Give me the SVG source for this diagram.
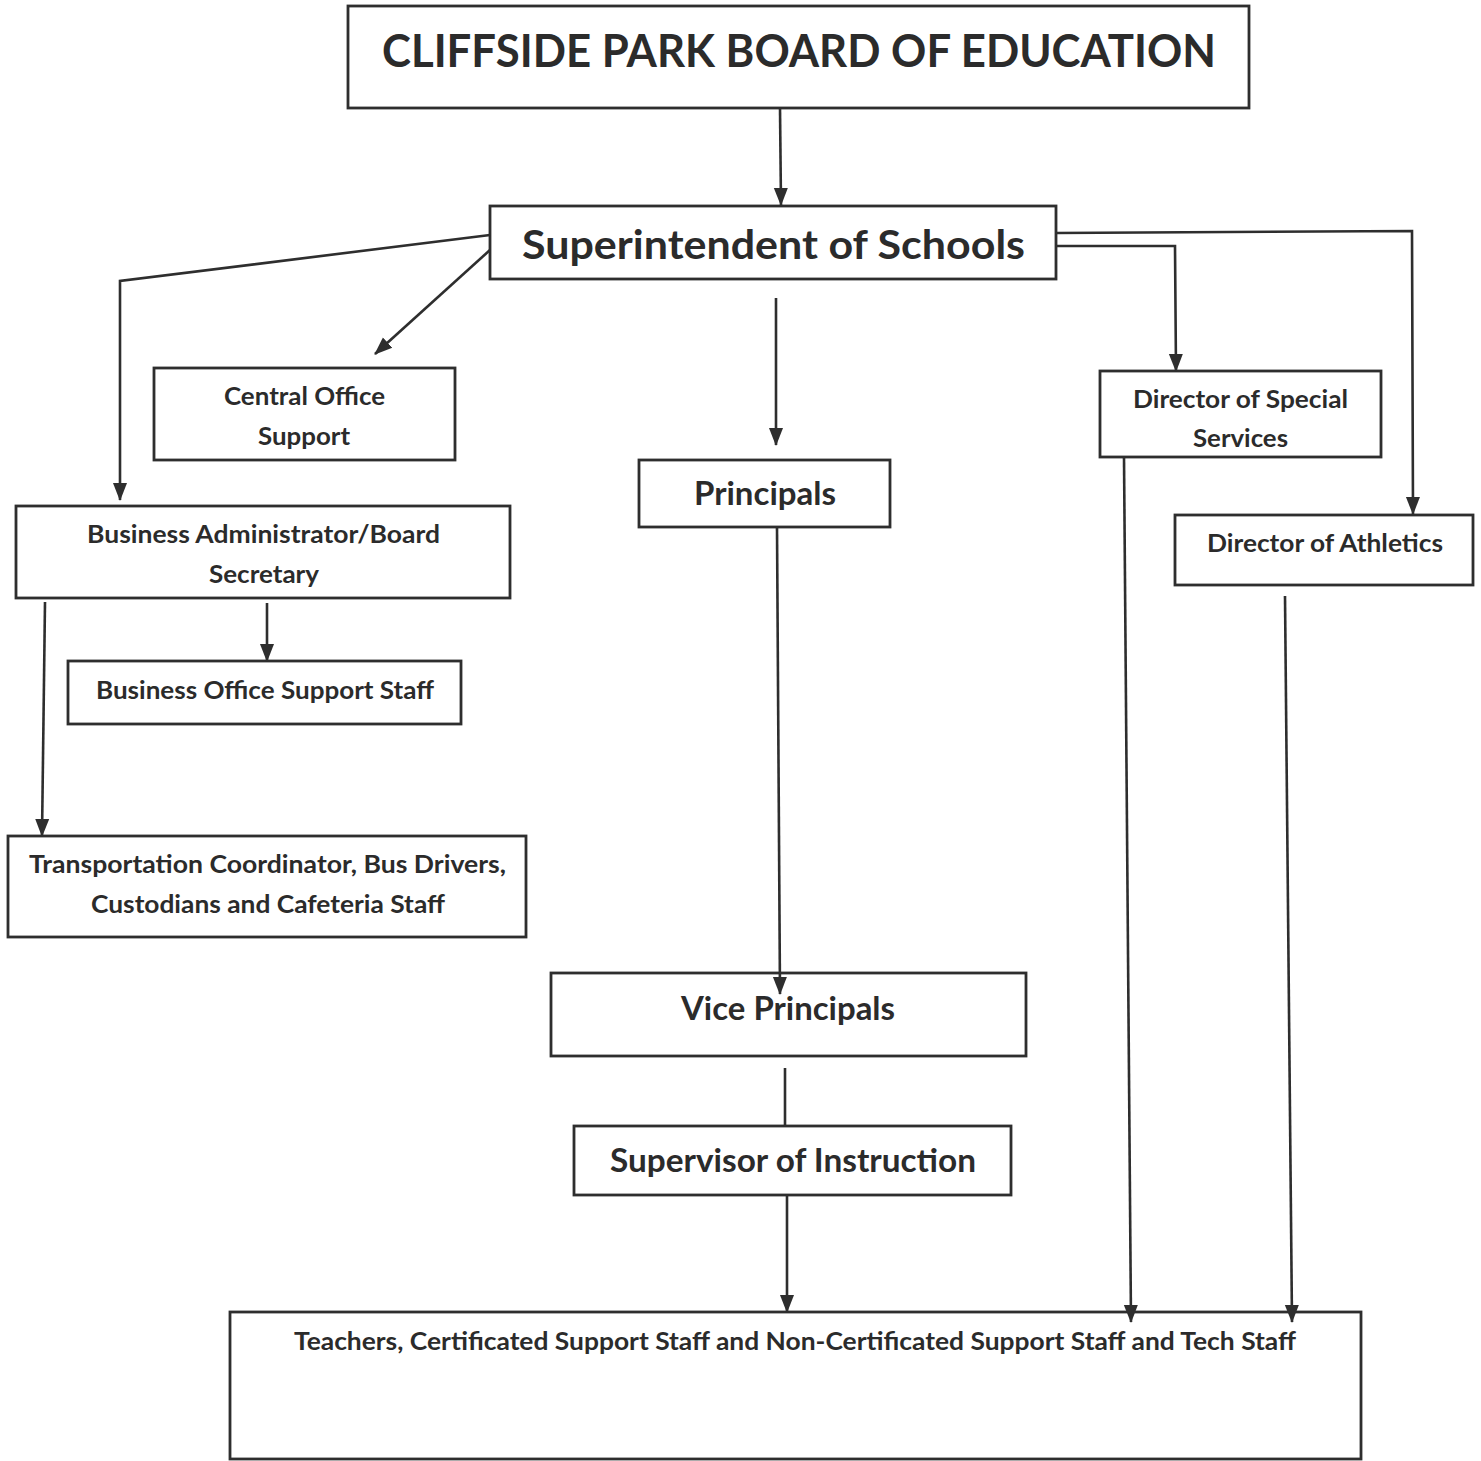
<svg xmlns="http://www.w3.org/2000/svg" width="1481" height="1461" viewBox="0 0 1481 1461">
<style>
.box{fill:#fff;stroke:#2e2e2e;stroke-width:2.8}
.t{font-family:Lato,"Open Sans","Liberation Sans",sans-serif;font-weight:bold;fill:#2b2b2b}
.s25{font-size:25px}
.s32{font-size:32px}
.c{fill:none;stroke:#2e2e2e;stroke-width:2.6}
</style>
<defs>
<marker id="ah" markerUnits="userSpaceOnUse" markerWidth="18" markerHeight="18" viewBox="0 0 18 18" refX="17" refY="9" orient="auto">
<path d="M0,2 L18,9 L0,16 Z" fill="#2e2e2e"/>
</marker>
</defs>
<rect width="1481" height="1461" fill="#fff"/>
<g id="board">
<rect class="box" x="348" y="6" width="901" height="102"/>
<text class="t" x="382" y="67" font-size="46" textLength="834" lengthAdjust="spacingAndGlyphs">CLIFFSIDE PARK BOARD OF EDUCATION</text>
</g>
<g id="superintendent">
<rect class="box" x="490" y="206" width="566" height="73"/>
<text class="t" x="522" y="259" font-size="40" textLength="503" lengthAdjust="spacingAndGlyphs">Superintendent of Schools</text>
</g>
<g id="central-office">
<rect class="box" x="154" y="368" width="301" height="92"/>
<text class="t s25" x="224" y="405" textLength="161" lengthAdjust="spacingAndGlyphs">Central Office</text>
<text class="t s25" x="258" y="445" textLength="92" lengthAdjust="spacingAndGlyphs">Support</text>
</g>
<g id="principals">
<rect class="box" x="639" y="460" width="251" height="67"/>
<text class="t s32" x="694" y="505" textLength="142" lengthAdjust="spacingAndGlyphs">Principals</text>
</g>
<g id="special-services">
<rect class="box" x="1100" y="371" width="281" height="86"/>
<text class="t s25" x="1133" y="408" textLength="215" lengthAdjust="spacingAndGlyphs">Director of Special</text>
<text class="t s25" x="1193" y="447" textLength="95" lengthAdjust="spacingAndGlyphs">Services</text>
</g>
<g id="athletics">
<rect class="box" x="1175" y="515" width="298" height="70"/>
<text class="t s25" x="1207" y="552" textLength="236" lengthAdjust="spacingAndGlyphs">Director of Athletics</text>
</g>
<g id="business-admin">
<rect class="box" x="16" y="506" width="494" height="92"/>
<text class="t s25" x="87" y="543" textLength="353" lengthAdjust="spacingAndGlyphs">Business Administrator/Board</text>
<text class="t s25" x="209" y="583" textLength="110" lengthAdjust="spacingAndGlyphs">Secretary</text>
</g>
<g id="business-office">
<rect class="box" x="68" y="661" width="393" height="63"/>
<text class="t s25" x="96" y="699" textLength="338" lengthAdjust="spacingAndGlyphs">Business Office Support Staff</text>
</g>
<g id="transportation">
<rect class="box" x="8" y="836" width="518" height="101"/>
<text class="t s25" x="29" y="873" textLength="477" lengthAdjust="spacingAndGlyphs">Transportation Coordinator, Bus Drivers,</text>
<text class="t s25" x="91" y="913" textLength="354" lengthAdjust="spacingAndGlyphs">Custodians and Cafeteria Staff</text>
</g>
<g id="vice-principals">
<rect class="box" x="551" y="973" width="475" height="83"/>
<text class="t s32" x="681" y="1020" textLength="214" lengthAdjust="spacingAndGlyphs">Vice Principals</text>
</g>
<g id="supervisor">
<rect class="box" x="574" y="1126" width="437" height="69"/>
<text class="t s32" x="610" y="1172" textLength="366" lengthAdjust="spacingAndGlyphs">Supervisor of Instruction</text>
</g>
<g id="staff">
<rect class="box" x="230" y="1312" width="1131" height="147"/>
<text class="t" x="294" y="1350" font-size="24" textLength="1002" lengthAdjust="spacingAndGlyphs">Teachers, Certificated Support Staff and Non-Certificated Support Staff and Tech Staff</text>
</g>
<g id="connectors">
<line class="c" x1="780" y1="108" x2="781" y2="205" marker-end="url(#ah)"/>
<polyline class="c" points="490,235 120,281 120,500" marker-end="url(#ah)"/>
<line class="c" x1="490" y1="250" x2="375" y2="354" marker-end="url(#ah)"/>
<line class="c" x1="776" y1="298" x2="776" y2="445" marker-end="url(#ah)"/>
<polyline class="c" points="1056,233 1412,231 1413,514" marker-end="url(#ah)"/>
<polyline class="c" points="1056,246 1175,246 1176,371" marker-end="url(#ah)"/>
<line class="c" x1="777" y1="527" x2="780" y2="994" marker-end="url(#ah)"/>
<line class="c" x1="785" y1="1068" x2="785" y2="1126"/>
<line class="c" x1="787" y1="1195" x2="787" y2="1312" marker-end="url(#ah)"/>
<line class="c" x1="1124" y1="457" x2="1131" y2="1322" marker-end="url(#ah)"/>
<line class="c" x1="1285" y1="596" x2="1292" y2="1322" marker-end="url(#ah)"/>
<line class="c" x1="267" y1="603" x2="267" y2="661" marker-end="url(#ah)"/>
<line class="c" x1="45" y1="602" x2="42" y2="836" marker-end="url(#ah)"/>
</g>
</svg>
